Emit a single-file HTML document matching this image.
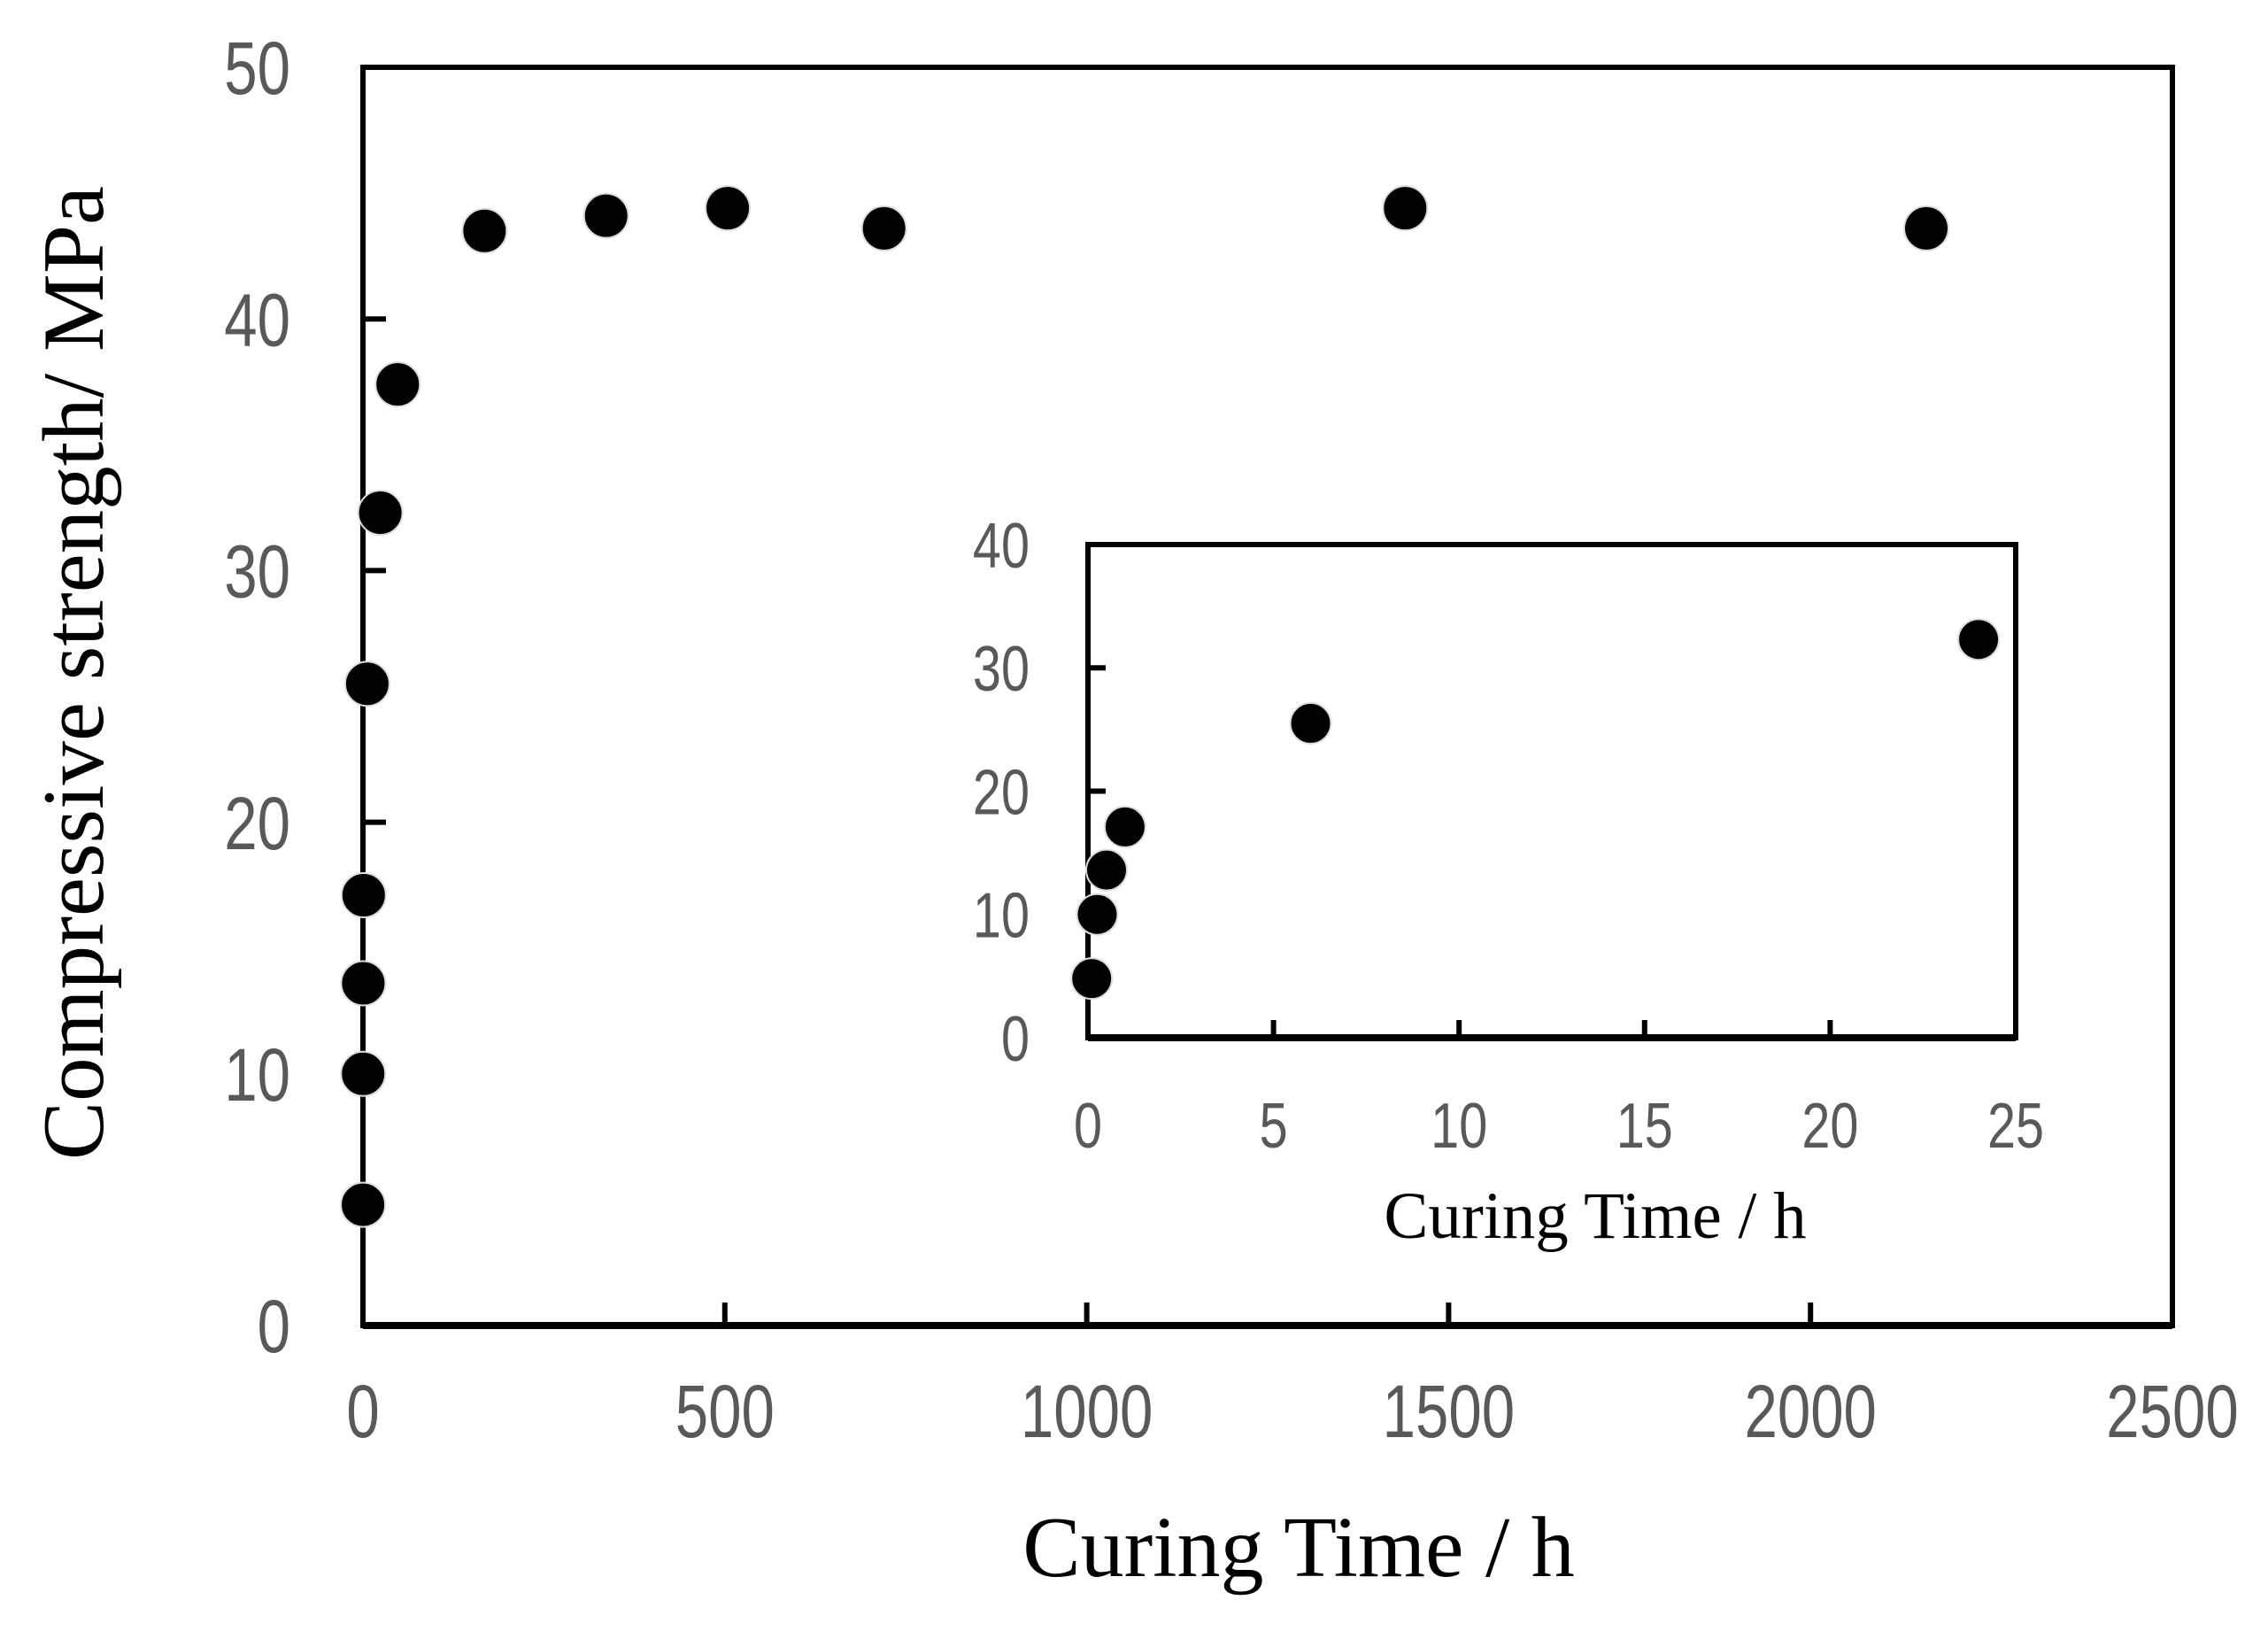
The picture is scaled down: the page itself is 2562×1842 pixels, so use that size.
<!DOCTYPE html>
<html><head><meta charset="utf-8"><style>
html,body{margin:0;padding:0;background:#fff;}
svg{display:block;}
.tk{font-family:"Liberation Sans Narrow","Liberation Sans",sans-serif;fill:#595959;}
.tt{font-family:"Liberation Serif",serif;fill:#000;}
</style></head><body>
<svg id="chart" width="2562" height="1842" viewBox="0 0 2562 1842" xmlns="http://www.w3.org/2000/svg">
<g id="main"></g>
<g id="inset"></g>
<text class="tt" x="1467" y="1780" font-size="98" text-anchor="middle">Curing Time / h</text>
<text class="tt" transform="translate(116,760) rotate(-90)" font-size="99" text-anchor="middle">Compressive strength/ MPa</text>
<text class="tt" x="1802" y="1398" font-size="75" text-anchor="middle">Curing Time / h</text>
</svg>
<script>
const curingTimes = [0.1, 0.25, 0.5, 1, 6, 24, 48, 168, 336, 504, 720, 1440, 2160];
const strengths = [4.8, 10, 13.6, 17.1, 25.5, 32.3, 37.4, 43.5, 44.1, 44.4, 43.6, 44.4, 43.6];
const mainXTicks = [0, 500, 1000, 1500, 2000, 2500];
const mainYTicks = [0, 10, 20, 30, 40, 50];
const insetXTicks = [0, 5, 10, 15, 20, 25];
const insetYTicks = [0, 10, 20, 30, 40];

const NS = "http://www.w3.org/2000/svg";
function mk(parent, tag, attrs, text) {
  const e = document.createElementNS(NS, tag);
  for (const k in attrs) e.setAttribute(k, attrs[k]);
  if (text !== undefined) e.textContent = text;
  parent.appendChild(e);
  return e;
}

function drawPlot(g, cfg) {
  const sx = v => cfg.left + (v - cfg.xmin) / (cfg.xmax - cfg.xmin) * (cfg.right - cfg.left);
  const sy = v => cfg.bottom - (v - cfg.ymin) / (cfg.ymax - cfg.ymin) * (cfg.bottom - cfg.top);
  const frame = mk(g, "rect", {x: cfg.left, y: cfg.top, width: cfg.right - cfg.left, height: cfg.bottom - cfg.top, fill: "none", stroke: "#000", "stroke-width": cfg.sw});
  
  
  const ax = mk(g, "line", {x1: cfg.left, x2: cfg.right, y1: cfg.bottom, y2: cfg.bottom, stroke: "#000", "stroke-width": cfg.sw + 2});
  
  
  cfg.xt.forEach(v => {
    const x = sx(v);
    if (v !== cfg.xmin && v !== cfg.xmax) {
      const t = mk(g, "line", {x1: x, x2: x, y1: cfg.bottom, y2: cfg.bottom - cfg.tl, stroke: "#000", "stroke-width": cfg.sw});
      
      
    }
    const l = mk(g, "text", {class: "tk", transform: "translate(" + x + "," + cfg.xly + ") scale(0.8,1)", "font-size": cfg.fs, "text-anchor": "middle"}, String(v));
    
    
  });
  cfg.yt.forEach(v => {
    const y = sy(v);
    if (v !== cfg.ymin && v !== cfg.ymax) {
      const t = mk(g, "line", {x1: cfg.left, x2: cfg.left + cfg.tl, y1: y, y2: y, stroke: "#000", "stroke-width": cfg.sw});
      
      
    }
    const l = mk(g, "text", {class: "tk", transform: "translate(" + cfg.ylx + "," + (y + cfg.fs * 0.36) + ") scale(0.8,1)", "font-size": cfg.fs, "text-anchor": "end"}, String(v));
    
    
  });
  curingTimes.forEach((t, i) => {
    if (t > cfg.xmax) return;
    const c = mk(g, "circle", {cx: sx(t), cy: sy(strengths[i]), r: cfg.r, fill: "#000", stroke: "#ddd", "stroke-width": 2});
    
    
  });
}

drawPlot(document.getElementById("main"), {
  prefix: "main-", left: 410, right: 2454, top: 76, bottom: 1497,
  xmin: 0, xmax: 2500, ymin: 0, ymax: 50, xt: mainXTicks, yt: mainYTicks,
  sw: 6, tl: 26, fs: 84, xly: 1623, ylx: 328, r: 25
});
drawPlot(document.getElementById("inset"), {
  prefix: "inset-", left: 1229, right: 2277, top: 615, bottom: 1172,
  xmin: 0, xmax: 25, ymin: 0, ymax: 40, xt: insetXTicks, yt: insetYTicks,
  sw: 6, tl: 20, fs: 72, xly: 1296, ylx: 1163, r: 23
});
</script>
</body></html>
